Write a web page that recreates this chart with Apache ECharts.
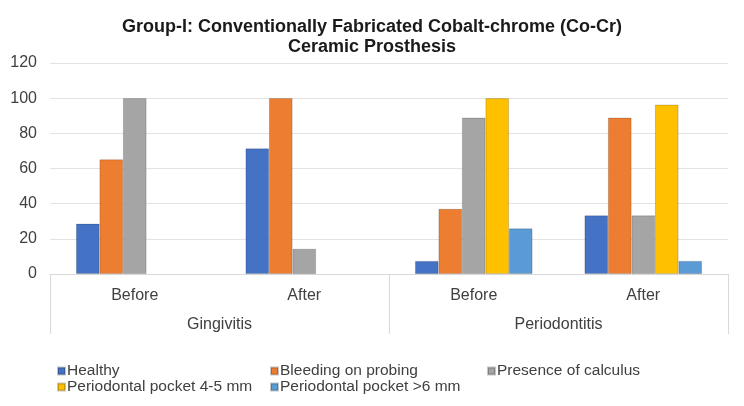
<!DOCTYPE html>
<html><head><meta charset="utf-8">
<script src="https://cdn.jsdelivr.net/npm/echarts@6/dist/echarts.min.js"></script>
<style>html,body{margin:0;padding:0;background:#fff}#c{width:744px;height:406px}</style>
</head><body><div id="c"></div>
<script>
const categories = ['Before', 'After', 'Before', 'After'];
const groups = ['Gingivitis', 'Periodontitis'];
const seriesNames = ['Healthy', 'Bleeding on probing', 'Presence of calculus', 'Periodontal pocket 4-5 mm', 'Periodontal pocket >6 mm'];
const healthy = [28.6, 71.4, 7.4, 33.3];
const bleeding = [65.2, 100, 37.0, 88.9];
const calculus = [100, 14.3, 88.9, 33.3];
const pocket45 = [0, 0, 100, 96.3];
const pocket6 = [0, 0, 25.9, 7.4];
const yTicks = [0, 20, 40, 60, 80, 100, 120];

const colors = ['#4472C4', '#ED7D31', '#A5A5A5', '#FFC000', '#5B9BD5'];
const values = [healthy, bleeding, calculus, pocket45, pocket6];
const font = 'Liberation Sans, Arial, sans-serif';

const chart = echarts.init(document.getElementById('c'));
chart.setOption({
  animation: false,
  title: {
    text: 'Group-I: Conventionally Fabricated Cobalt-chrome (Co-Cr)\nCeramic Prosthesis',
    left: 'center', top: 12,
    textStyle: {fontFamily: font, fontSize: 18, fontWeight: 'bold', color: '#1a1a1a', lineHeight: 20}
  },
  legend: [
    {data: [seriesNames[0], seriesNames[3]], left: 57, top: 363, orient: 'vertical'},
    {data: [seriesNames[1], seriesNames[4]], left: 270, top: 363, orient: 'vertical'},
    {data: [seriesNames[2]], left: 487, top: 363, orient: 'vertical'}
  ].map(l => Object.assign(l, {
    icon: 'rect', itemWidth: 7, itemHeight: 7, itemGap: 0, padding: 0,
    textStyle: {fontFamily: font, fontSize: 15.5, color: '#404040', lineHeight: 16, padding: [0, 0, 0, -3]}
  })),
  grid: {left: 50, right: 16, top: 63, bottom: 132, containLabel: false},
  xAxis: [
    {
      type: 'category', data: categories, position: 'bottom',
      axisLine: {show: true, lineStyle: {color: '#d9d9d9', width: 1}},
      axisTick: {show: false},
      axisLabel: {fontFamily: font, fontSize: 16, color: '#404040', margin: 14}
    },
    {
      type: 'category', data: groups, position: 'bottom',
      axisLine: {show: false},
      axisTick: {show: true, length: 60, lineStyle: {color: '#d9d9d9'}},
      axisLabel: {fontFamily: font, fontSize: 16, color: '#404040', margin: 43}
    }
  ],
  yAxis: {
    type: 'value', min: yTicks[0], max: yTicks[yTicks.length - 1], interval: 20,
    axisLine: {show: false}, axisTick: {show: false},
    axisLabel: {fontFamily: font, fontSize: 16, color: '#404040', margin: 13},
    splitLine: {lineStyle: {color: '#e3e3e3', width: 1}}
  },
  series: seriesNames.map((n, i) => ({
    name: n, type: 'bar', xAxisIndex: 0,
    data: values[i].map(v => v === 0 ? {value: v, itemStyle: {borderWidth: 0}} : v),
    barGap: '0%', barCategoryGap: '30.7%',
    itemStyle: {color: colors[i], borderColor: 'rgba(0,0,0,0.22)', borderWidth: 0.8}
  }))
});
</script></body></html>
